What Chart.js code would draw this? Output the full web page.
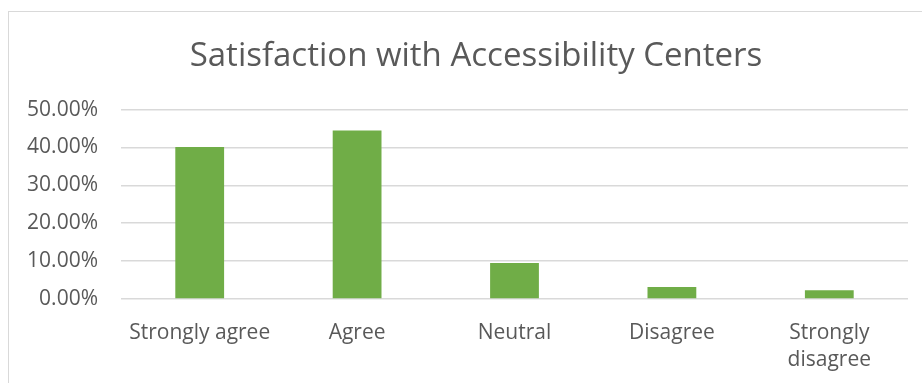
<!DOCTYPE html>
<html>
<head>
<meta charset="utf-8">
<script src="https://cdn.jsdelivr.net/npm/chart.js@4.4.1/dist/chart.umd.min.js"></script>
<style>
    html, body { margin: 0; padding: 0; background: #fff; overflow: hidden; }
    #frame {
        position: absolute;
        left: 8px;
        top: 11px;
        width: 938px;
        height: 380px;
        border: 1px solid #d9d9d9;
        background: #fff;
    }
</style>
</head>
<body>
<div id="frame"><canvas id="satisfactionChart" width="938" height="380"></canvas></div>
<script>
// Survey responses (share of respondents, %)
const categories = ['Strongly agree', 'Agree', 'Neutral', 'Disagree', ['Strongly', 'disagree']];
const responseShare = [40.1, 44.5, 9.5, 3.2, 2.3];
const yTicks = [0, 10, 20, 30, 40, 50];

const TEXT_COLOR = '#595959';
const GRID_COLOR = '#d9d9d9';
const BAR_COLOR = '#70AD47';

const SatisfactionChart = {
    chart: null,

    init() {
        const ctx = document.getElementById('satisfactionChart');
        if (!ctx) return;

        if (this.chart) {
            this.chart.destroy();
        }

        this.chart = new Chart(ctx, {
            type: 'bar',
            data: {
                labels: categories,
                datasets: [{
                    label: 'Satisfaction',
                    data: responseShare,
                    backgroundColor: BAR_COLOR,
                    borderWidth: 0,
                    categoryPercentage: 1,
                    barPercentage: 0.31
                }]
            },
            options: {
                responsive: false,
                animation: false,
                layout: {
                    padding: { left: 0, right: 4, top: 0, bottom: 0 }
                },
                plugins: {
                    legend: { display: false },
                    tooltip: { enabled: false },
                    title: {
                        display: true,
                        text: 'Satisfaction with Accessibility Centers',
                        color: TEXT_COLOR,
                        font: { family: '"Open Sans", sans-serif', size: 33, weight: 'normal', lineHeight: 1.2 },
                        padding: { top: 25, bottom: 33 }
                    }
                },
                scales: {
                    x: {
                        grid: { display: false },
                        border: { display: false },
                        ticks: {
                            color: TEXT_COLOR,
                            font: { family: '"Open Sans", sans-serif', size: 21, lineHeight: 1.3 },
                            padding: 12,
                            maxRotation: 0,
                            autoSkip: false
                        },
                        afterFit(scale) {
                            scale.height = 93;
                        }
                    },
                    y: {
                        min: 0,
                        max: 50,
                        afterBuildTicks(scale) {
                            scale.ticks = yTicks.map(v => ({ value: v }));
                        },
                        grid: {
                            color: GRID_COLOR,
                            lineWidth: 1.5,
                            drawTicks: false
                        },
                        border: { display: false },
                        ticks: {
                            color: TEXT_COLOR,
                            font: { family: '"Open Sans", sans-serif', size: 21 },
                            padding: 23,
                            callback: v => v.toFixed(2) + '%'
                        },
                        afterFit(scale) {
                            scale.width = 112;
                        }
                    },
                    // blank right-hand gutter so the title centres on the full frame
                    gutter: {
                        type: 'linear',
                        position: 'right',
                        grid: { display: false },
                        border: { display: false },
                        ticks: { display: false },
                        afterFit(scale) {
                            scale.width = 35;
                        }
                    }
                }
            }
        });
    }
};

SatisfactionChart.init();
</script>
</body>
</html>
